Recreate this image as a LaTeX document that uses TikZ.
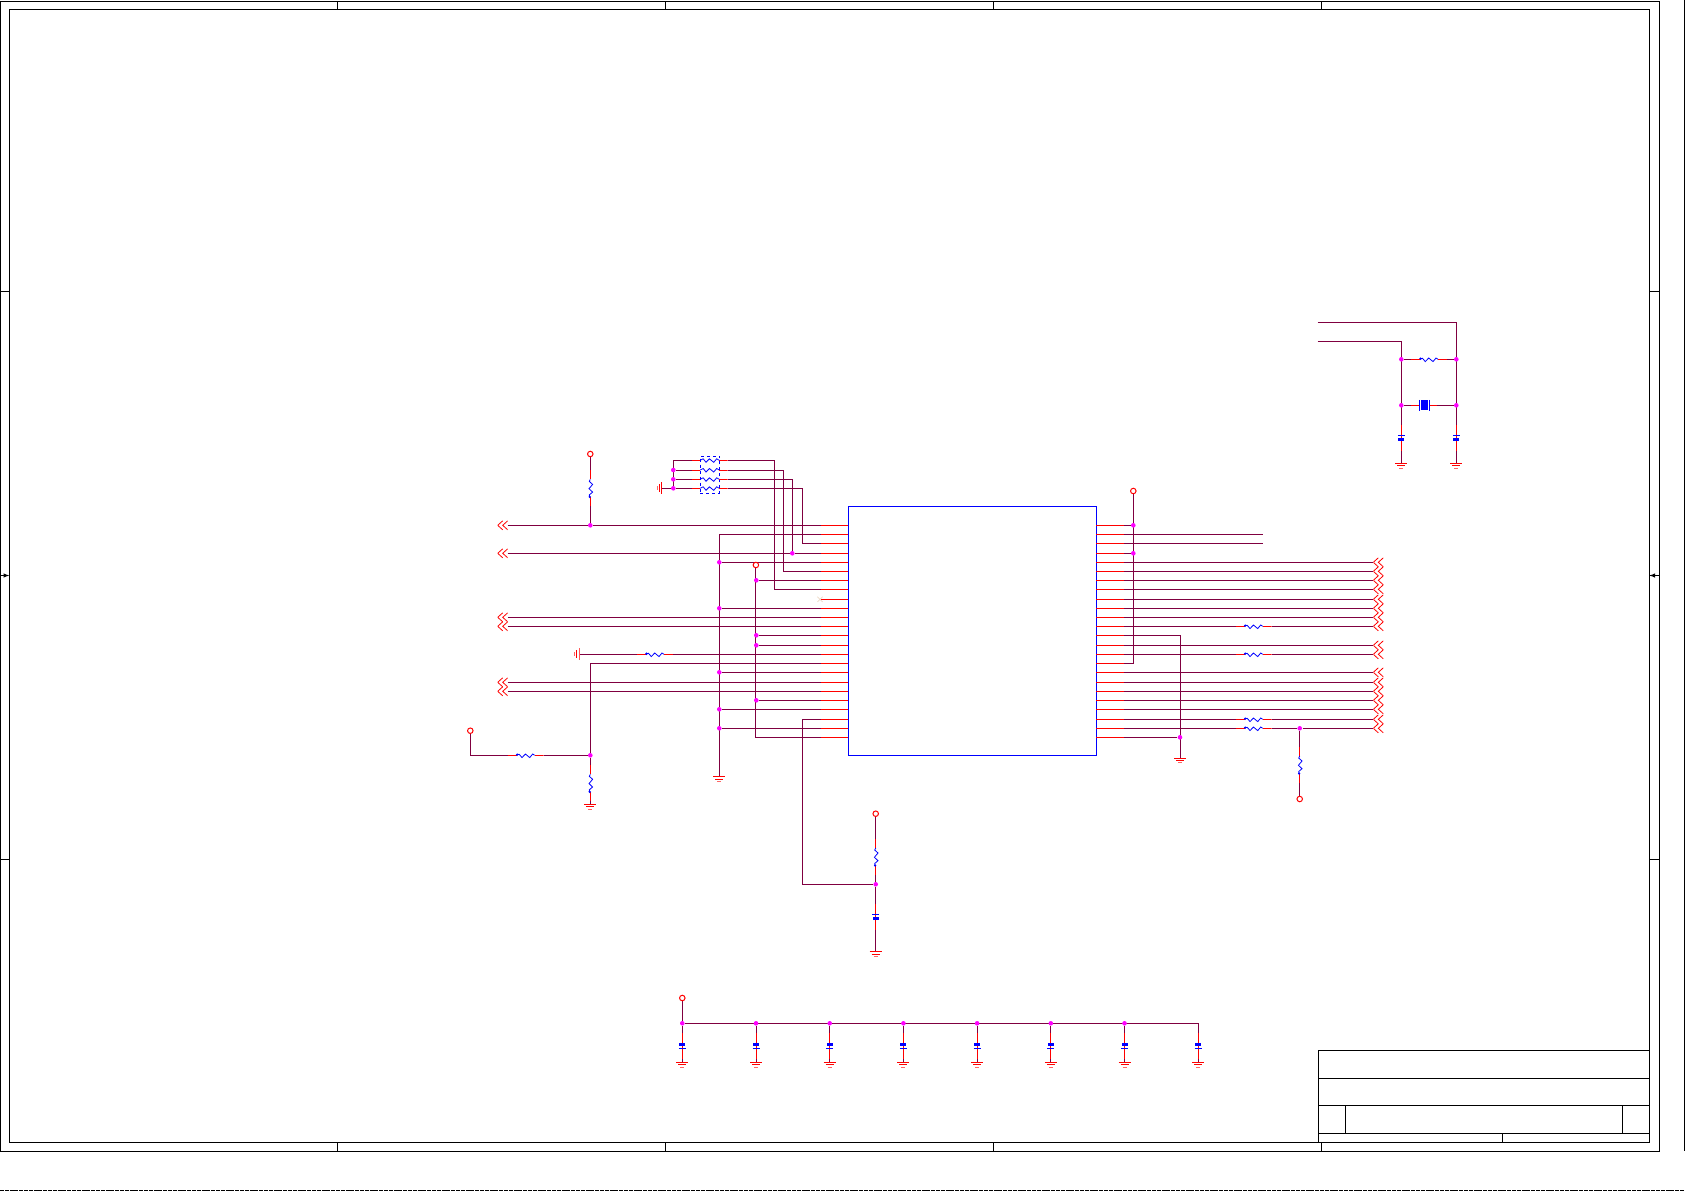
\documentclass[tikz,border=0pt]{standalone}
\usetikzlibrary{backgrounds,shapes.misc}
\definecolor{wirecol}{RGB}{128,0,64}
\definecolor{dotcol}{RGB}{255,0,255}

\begin{document}
\begin{tikzpicture}[x=1pt, y=-1pt, line width=1pt,
	junction/.style={circle, fill=dotcol, inner sep=0, minimum size=4.6pt},
	supply/.style={circle, draw=red, inner sep=0, minimum size=5.5pt, outer sep=0},
	wire/.style={draw=wirecol, line width=1pt},
	pin stub/.style={draw=red, line width=1pt},
	chip/.style={draw=blue, inner sep=0, minimum width=248pt, minimum height=249pt},
	res/.style={inner sep=0, outer sep=0, minimum width=36pt, minimum height=9pt, path picture={
		\begin{scope}[shift={(path picture bounding box.center)}]
			\draw[red] (-18,0) -- (-9,0) (9,0) -- (18,0);
			\draw[blue, line width=.8pt] (-9,-.6) -- (-6.5,-1) -- (-3.7,2.3) -- (-.3,-1.3) -- (4,2.3) -- (7,-1.3) -- (9,0);
			\fill[blue] (-8.5,-.6) circle (1.3pt);
		\end{scope}}},
	res pack/.style={inner sep=0, outer sep=0, minimum width=36pt, minimum height=7pt, path picture={
		\begin{scope}[shift={(path picture bounding box.center)}]
			\draw[red] (-18,0) -- (-9.5,0) (9.5,0) -- (18,0);
			\draw[blue, line width=.8pt] (-9.5,0) -- (-6.5,-1.5) -- (-3.7,2) -- (-.3,-1.5) -- (4,2) -- (7,-1.5) -- (9.5,0);
		\end{scope}}},
	res vert/.style={inner sep=0, outer sep=0, minimum width=9pt, minimum height=36pt, path picture={
		\begin{scope}[shift={(path picture bounding box.center)}]
			\draw[red] (0,-18) -- (0,-9) (0,9) -- (0,18);
			\draw[blue, line width=.8pt] (0,-9) -- (-1,-7) -- (2.3,-4) -- (-1.3,.3) -- (2.3,3.7) -- (-1,6.5) -- (-.6,9);
			\fill[blue] (-.6,8.5) circle (1.3pt);
		\end{scope}}},
	cap top/.style={inner sep=0, outer sep=0, minimum width=9pt, minimum height=26.4pt, path picture={
		\begin{scope}[shift={(path picture bounding box.center)}]
			\draw[red] (0,-13.2) -- (0,13.2);
			\draw[blue] (-3.5,-2.3) -- (3.5,-2.3);
			\fill[blue] (-3,0) rectangle (3,3);
		\end{scope}}},
	cap bottom/.style={inner sep=0, outer sep=0, minimum width=9pt, minimum height=26.4pt, path picture={
		\begin{scope}[shift={(path picture bounding box.center)}]
			\draw[red] (0,-13.2) -- (0,13.2);
			\fill[blue] (-3,-3.4) rectangle (3,-.4);
			\draw[blue] (-3.5,2.3) -- (3.5,2.3);
		\end{scope}}},
	crystal/.style={inner sep=0, outer sep=0, minimum width=26.4pt, minimum height=12pt, path picture={
		\begin{scope}[shift={(path picture bounding box.center)}]
			\draw[red] (-13.2,0) -- (-5,0) (5,0) -- (13.2,0);
			\draw[blue] (-4.8,-5.4) -- (-4.8,5.4) (4.8,-5.4) -- (4.8,5.4);
			\fill[blue] (-2.8,-5) rectangle (3.6,5);
		\end{scope}}},
	gnd/.style={anchor=north, inner sep=0, outer sep=0, minimum width=13pt, minimum height=6.5pt, path picture={
		\begin{scope}[shift={(path picture bounding box.center)}]
			\draw[red] (-6,-2.8) -- (6,-2.8) (-4,-.4) -- (4,-.4);
			\draw[red!60] (-2,1.8) -- (2,1.8);
		\end{scope}}},
	gnd left/.style={anchor=east, inner sep=0, outer sep=0, minimum width=6pt, minimum height=13pt, path picture={
		\begin{scope}[shift={(path picture bounding box.center)}]
			\draw[red] (2.5,-6) -- (2.5,6) (.2,-4) -- (.2,4);
			\draw[red!60] (-2,-2) -- (-2,2);
		\end{scope}}},
	offpage/.style={inner sep=0, outer sep=0, minimum width=10pt, minimum height=11pt, path picture={
		\begin{scope}[shift={(path picture bounding box.center)}]
			\draw[red, line width=.8pt] (0,-4.5) -- (-5,0) -- (0,4.5) (5,-4.5) -- (0,0) -- (5,4.5);
		\end{scope}}},
	nc mark/.style={cross out, draw=brown!30, line width=.7pt, inner sep=0, minimum size=4.5pt}]

	\useasboundingbox (0,0) rectangle (1685,1191);

	\draw (.7,1) rectangle (1659.3,1151.3);
	\draw (9.3,9.3) rectangle (1649.3,1142.3);
	\draw (1684.3,0) -- (1684.3,1151.3);
	\draw [dash pattern=on 4pt off .8pt] (0,1190.5) -- (1685,1190.5);
	\foreach \x in {337.3,665.2,993,1321.3} {
		\draw (\x,1) -- (\x,9.3);
		\draw (\x,1142.3) -- (\x,1151.3);
	}
	\foreach \y in {291.2,859.7} {
		\draw (.7,\y) -- (9.3,\y);
		\draw (1649.3,\y) -- (1659.3,\y);
	}
	\draw [-latex] (.7,575.5) -- (9.3,575.5);
	\draw [-latex] (1659.3,575.5) -- (1649.3,575.5);

	\draw (1318.3,1050.3) rectangle (1649.3,1142.3);
	\draw (1318.3,1078.3) -- (1649.3,1078.3);
	\draw (1318.3,1105.3) -- (1649.3,1105.3);
	\draw (1318.3,1133.3) -- (1649.3,1133.3);
	\draw (1345.3,1105.3) -- (1345.3,1133.3);
	\draw (1622.3,1105.3) -- (1622.3,1133.3);
	\draw (1502.3,1133.3) -- (1502.3,1142.3);

	\node (u1)[chip] at (972.3,630.8){};

	\foreach \y [count=\i] in {525.3,534.3,543.3,553.3,562.3,571.3,580.3,589.3,599.3,608.3,617.3,626.3,635.3,645.3,654.3,663.3,672.3,682.3,691.3,700.3,709.3,719.3,728.3,737.3} {
		\coordinate (pl\i) at (848.3,\y);
		\coordinate (sl\i) at (821,\y);
		\coordinate (pr\i) at (1096.3,\y);
		\coordinate (sr\i) at (1124,\y);
		\draw [pin stub](pl\i) -- (sl\i);
		\draw [pin stub](pr\i) -- (sr\i);
	}

	\node (nc1)[nc mark] at (820,599.3){};

	\node (vccA)[supply] at (590.3,454){};
	\node (vccB)[supply] at (755.9,565){};
	\node (vccC)[supply] at (1133.3,491){};
	\node (vccD)[supply] at (470.3,730.7){};
	\node (vccE)[supply] at (1299.7,799){};
	\node (vccF)[supply] at (875.7,813.7){};
	\node (vccG)[supply] at (682.3,998){};

	\foreach \n/\x/\y in {jA/590.3/525.3, jB/590.3/755.3, jC/792.3/553.3,
		jg5/719.3/562.3, jg10/719.3/608.3, jg17/719.3/672.3, jg21/719.3/709.3, jg23/719.3/728.3,
		jv7/756.3/580.3, jv13/756.3/635.3, jv14/756.3/645.3, jv20/756.3/700.3,
		jp2/673.3/470, jp3/673.3/479.3, jp4/673.3/488.3,
		jr1/1133.3/525.3, jr4/1133.3/553.3, jr24/1180/737.3, jr23/1299.7/728.3,
		jf/875.7/884.3, jx1/1456.3/359.3, jx2/1456.3/405.3, jx3/1401.3/359.3, jx4/1401.3/405.3} {
		\node (\n)[junction] at (\x,\y){};
	}

	\node (rA)[res vert] at (590.3,488.4){};
	\node (rB)[res vert] at (590.3,783.3){};
	\node (rC)[res vert] at (1299.7,765){};
	\node (rD)[res vert] at (875.7,857){};
	\node (rE)[res] at (525.7,755.3){};
	\node (rF)[res] at (655,654.3){};
	\node (rG)[res] at (1253.7,626.3){};
	\node (rH)[res] at (1253.7,654.3){};
	\node (rJ)[res] at (1253.7,719.3){};
	\node (rK)[res] at (1253.7,728.3){};
	\node (rX)[res] at (1429,359.3){};
	\node (yX)[crystal] at (1424.2,405.3){};

	\node (pack)[draw=blue, dashed, line width=.8pt, inner sep=0, minimum width=19pt, minimum height=37.3pt] at (709.8,474.6){};
	\node (rp1)[res pack] at (709.7,460.3){};
	\node (rp2)[res pack] at (709.7,470){};
	\node (rp3)[res pack] at (709.7,479.3){};
	\node (rp4)[res pack] at (709.7,488.3){};

	\node (cX1)[cap top] at (1401.3,437.9){};
	\node (cX2)[cap top] at (1456.3,437.9){};
	\node (cF)[cap top] at (875.7,916.7){};

	\node (gA)[gnd] at (590.3,804){};
	\node (gB)[gnd] at (719.3,776.5){};
	\node (gC)[gnd] at (1180.3,757.7){};
	\node (gD)[gnd] at (875.7,951.3){};
	\node (gE)[gnd] at (1401.3,463){};
	\node (gF)[gnd] at (1456.3,463){};
	\node (gG)[gnd left] at (579.5,654.3){};
	\node (gH)[gnd left] at (662,488.3){};

	\foreach \i/\x in {1/682.3,2/756,3/829.7,4/903.4,5/977.1,6/1050.8,7/1124.5,8/1198.2} {
		\node (cB\i)[cap bottom] at (\x,1045.9){};
		\node (gB\i)[gnd] at (\x,1062){};
	}
	\foreach \i/\x in {1/682.3,2/756,3/829.7,4/903.4,5/977.1,6/1050.8,7/1124.5} {
		\node (jB\i)[junction] at (\x,1023.3){};
	}
	\coordinate (jB8) at (1198.2,1023.3);

	\foreach \n/\y in {chL1/525.3,chL4/553.3,chL11/617.3,chL12/626.3,chL18/682.3,chL19/691.3} {
		\node (\n)[offpage] at (502.7,\y){};
	}
	\foreach \i/\y in {5/562.3,6/571.3,7/580.3,8/589.3,9/599.3,10/608.3,11/617.3,12/626.3,14/645.3,15/654.3,17/672.3,18/682.3,19/691.3,20/700.3,21/709.3,22/719.3,23/728.3} {
		\node (chR\i)[offpage] at (1378.3,\y){};
	}

	\coordinate (c2) at (719.3,534.3);
	\coordinate (c3) at (802.3,543.3);
	\coordinate (c6) at (783.3,571.3);
	\coordinate (c8) at (774.3,589.3);
	\coordinate (c16) at (590.3,663.3);
	\coordinate (c22) at (802.3,719.3);
	\coordinate (c24) at (755.9,737.3);
	\coordinate (d13) at (1180.3,635.3);
	\coordinate (d16) at (1133.3,663.3);
	\coordinate (e2) at (1263,534.3);
	\coordinate (e3) at (1263,543.3);
	\coordinate (xA) at (1317.7,322.3);
	\coordinate (xB) at (1317.7,341.3);

	\begin{scope}[on background layer]
		\draw [wire](vccA) -- (rA) -- (jA);
		\draw [wire](chL1) -- (jA) -- (sl1);
		\draw [wire](sl2) -- (c2) -- (gB);
		\draw [wire](sl3) -- (c3) |- (rp4);
		\draw [wire](chL4) -- (jC) -- (sl4);
		\draw [wire](jC) |- (rp3);
		\draw [wire](sl5) -- (jg5);
		\draw [wire](sl6) -- (c6) |- (rp2);
		\draw [wire](sl7) -- (jv7);
		\draw [wire](sl8) -- (c8) |- (rp1);
		\draw [wire](sl10) -- (jg10);
		\draw [wire](chL11) -- (sl11);
		\draw [wire](chL12) -- (sl12);
		\draw [wire](sl13) -- (jv13);
		\draw [wire](sl14) -- (jv14);
		\draw [wire](sl15) -- (rF) -- (gG);
		\draw [wire](sl16) -- (c16) -- (jB);
		\draw [wire](sl17) -- (jg17);
		\draw [wire](chL18) -- (sl18);
		\draw [wire](chL19) -- (sl19);
		\draw [wire](sl20) -- (jv20);
		\draw [wire](sl21) -- (jg21);
		\draw [wire](sl22) -- (c22) |- (jf);
		\draw [wire](sl23) -- (jg23);
		\draw [wire](sl24) -- (c24) -- (vccB);
		\draw [wire](vccD) |- (rE);
		\draw [wire](rE) -- (jB);
		\draw [wire](jB) -- (rB) -- (gA);
		\draw [wire](rp1) -| (jp4);
		\draw [wire](jp2) -- (rp2);
		\draw [wire](jp3) -- (rp3);
		\draw [wire](gH) -- (jp4) -- (rp4);
		\draw [wire](vccF) -- (rD) -- (jf) -- (cF) -- (gD);

		\draw [wire](vccC) -- (d16) -- (sr16);
		\draw [wire](sr1) -- (jr1);
		\draw [wire](sr2) -- (e2);
		\draw [wire](sr3) -- (e3);
		\draw [wire](sr4) -- (jr4);
		\foreach \i in {5,6,7,8,9,10,11,14,17,18,19,20,21} {
			\draw [wire](sr\i) -- (chR\i);
		}
		\draw [wire](sr12) -- (rG) -- (chR12);
		\draw [wire](sr15) -- (rH) -- (chR15);
		\draw [wire](sr22) -- (rJ) -- (chR22);
		\draw [wire](sr23) -- (rK) -- (jr23) -- (chR23);
		\draw [wire](jr23) -- (rC) -- (vccE);
		\draw [wire](sr13) -- (d13) -- (gC);
		\draw [wire](sr24) -- (jr24);

		\draw [wire](xA) -| (cX2);
		\draw [wire](xB) -| (cX1);
		\draw [wire](jx3) -- (rX) -- (jx1);
		\draw [wire](jx4) -- (yX) -- (jx2);
		\draw [wire](cX1) -- (gE);
		\draw [wire](cX2) -- (gF);

		\draw [wire](vccG) -- (jB1);
		\draw [wire](jB1) -- (jB8);
		\foreach \i in {1,...,8} {
			\draw [wire](jB\i) -- (cB\i) -- (gB\i);
		}
	\end{scope}
\end{tikzpicture}
\end{document}
